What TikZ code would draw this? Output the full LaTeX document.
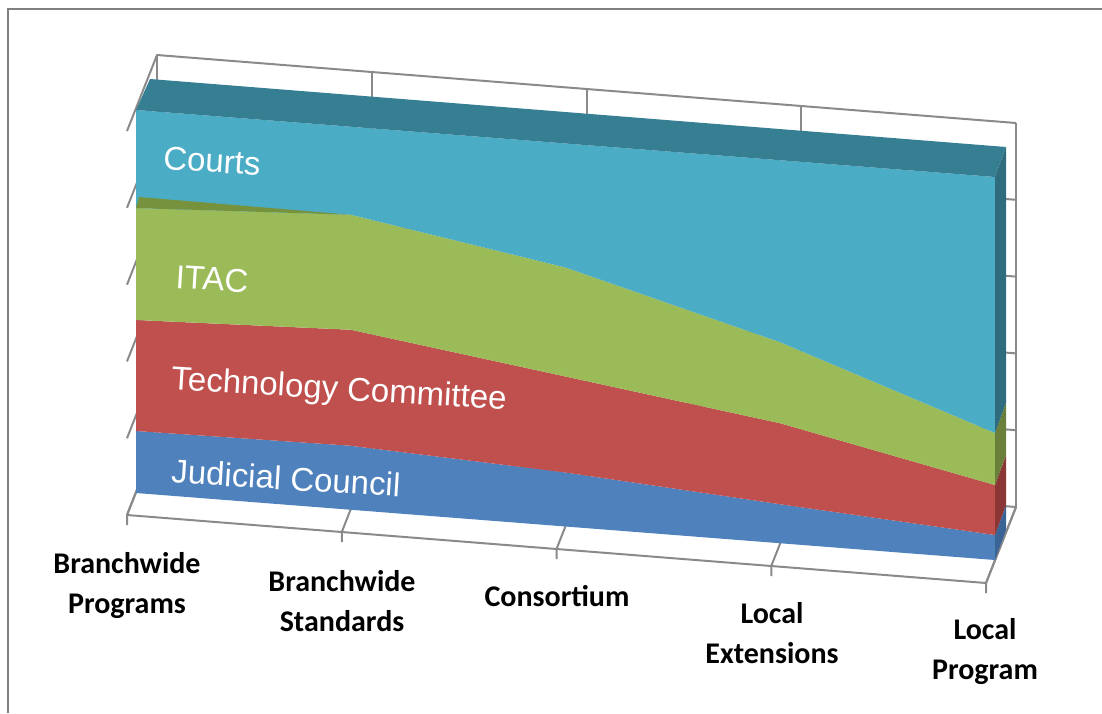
\documentclass[tikz,border=0pt]{standalone}
\usepackage{fontspec}
\newfontfamily\seriesfont{Liberation Sans}
\newfontfamily\catfont{Carlito}
\definecolor{axisgray}{HTML}{8A8A8A}
\definecolor{framegray}{HTML}{808080}
\definecolor{courtsfront}{HTML}{4BACC6}
\definecolor{courtstop}{HTML}{367F93}
\definecolor{courtsside}{HTML}{2F6C7D}
\definecolor{itacfront}{HTML}{9BBB59}
\definecolor{itactop}{HTML}{76923C}
\definecolor{itacside}{HTML}{6A803A}
\definecolor{techfront}{HTML}{C0504D}
\definecolor{techside}{HTML}{8A3735}
\definecolor{judfront}{HTML}{4F81BD}
\definecolor{judside}{HTML}{3B6496}
\begin{document}
\begin{tikzpicture}[x=1pt,y=-1pt,
		frame/.style={draw=framegray,line width=2.5pt},
		axis/.style={draw=axisgray,line width=2pt,line join=round},
		serieslabel/.style={text=white,font=\seriesfont\fontsize{33}{40}\selectfont,rotate=-3.5,inner sep=0pt},
		catlabel/.style={font=\catfont\bfseries\fontsize{30}{40}\selectfont,align=center,inner sep=0pt}]
			\useasboundingbox (0,0) rectangle (1102,713);
			\draw [frame] (8,713) -- (8,9) -- (1102,9);
			\foreach \k in {0,...,5}
				\draw [axis] (127,{131+76.8*\k}) -- (157,{55+76.8*\k}) -- (1016,{123+76.8*\k});
			\foreach \k in {0,...,4}
				\draw [axis] ({157+214.75*\k},{55+17*\k}) -- ({157+214.75*\k},{439+17*\k});
			\foreach \k in {0,...,4}
				\draw [axis] ({157+214.75*\k},{439+17*\k}) -- ({127+214.75*\k},{515+17*\k}) -- ++(0,10);
			\draw [axis] (127,515) -- (986,583) -- (1016,507);
			\foreach \k/\j/\t/\i in {0/62/173/285,1/64/180/295,2/54/150/259,3/39/120/201,4/25/75/127} {
				\coordinate (b\k) at ({136+214.75*\k},{493+16.75*\k});
				\coordinate (j\k) at ({136+214.75*\k},{493+16.75*\k-\j});
				\coordinate (t\k) at ({136+214.75*\k},{493+16.75*\k-\t});
				\coordinate (i\k) at ({136+214.75*\k},{493+16.75*\k-\i});
				\coordinate (c\k) at ({136+214.75*\k},{110+16.75*\k});
			}
			\fill [judfront] (b0) -- (b1) -- (b2) -- (b3) -- (b4) -- (j4) -- (j3) -- (j2) -- (j1) -- (j0) -- cycle;
			\fill [techfront] (j0) -- (j1) -- (j2) -- (j3) -- (j4) -- (t4) -- (t3) -- (t2) -- (t1) -- (t0) -- cycle;
			\fill [itacfront] (t0) -- (t1) -- (t2) -- (t3) -- (t4) -- (i4) -- (i3) -- (i2) -- (i1) -- (i0) -- cycle;
			\fill [courtsfront] (i0) -- (i1) -- (i2) -- (i3) -- (i4) -- (c4) -- (c3) -- (c2) -- (c1) -- (c0) -- cycle;
			\fill [itactop] (i0) -- ([shift={(3,-11)}]i0) -- (i1) -- cycle;
			\fill [courtstop] (c0) -- (c4) -- ([shift={(11,-30)}]c4) -- ([shift={(14,-31)}]c0) -- cycle;
			\fill [judside] (b4) -- (j4) -- ([shift={(11,-30)}]j4) -- ([shift={(11,-30)}]b4) -- cycle;
			\fill [techside] (j4) -- (t4) -- ([shift={(11,-30)}]t4) -- ([shift={(11,-30)}]j4) -- cycle;
			\fill [itacside] (t4) -- (i4) -- ([shift={(11,-30)}]i4) -- ([shift={(11,-30)}]t4) -- cycle;
			\fill [courtsside] (i4) -- (c4) -- ([shift={(11,-30)}]c4) -- ([shift={(11,-30)}]i4) -- cycle;
			\node (courts) [serieslabel] at (212,161) {Courts};
			\node (itac) [serieslabel] at (212,279) {ITAC};
			\node (techcomm) [serieslabel] at (339,391) {Technology Committee};
			\node (judcouncil) [serieslabel] at (286,478) {Judicial Council};
			\node (bwprograms) [catlabel] at (127,586) {Branchwide\\Programs};
			\node (bwstandards) [catlabel] at (342,601) {Branchwide\\Standards};
			\node (consortium) [catlabel] at (557,596) {Consortium};
			\node (localext) [catlabel] at (772,633) {Local\\Extensions};
			\node (localprog) [catlabel] at (985,652) {Local\\Program};
\end{tikzpicture}
\end{document}
